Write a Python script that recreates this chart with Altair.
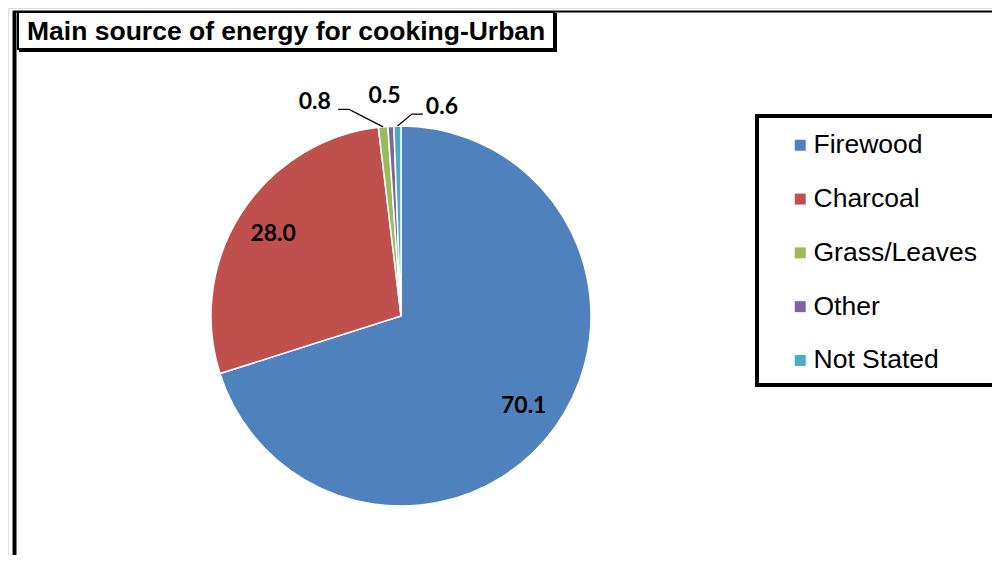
import math
import altair as alt
import pandas as pd

# ---- data ----
categories = ["Firewood", "Charcoal", "Grass/Leaves", "Other", "Not Stated"]
values = [70.1, 28.0, 0.8, 0.5, 0.6]
colors = ["#4F81BD", "#C0504D", "#9BBB59", "#8064A2", "#4BACC6"]
title_text = "Main source of energy for cooking-Urban"

total = sum(values)
df = pd.DataFrame({"category": categories, "value": values,
                   "order": list(range(len(categories)))})

# ---- layout (view coordinates = page - 8) ----
W, H = 984, 547
CX, CY, R = 393, 308, 190

theta_scale = alt.Scale(domain=[0, total])

pie = alt.Chart(df).mark_arc(outerRadius=R, stroke="white", strokeWidth=1.5).encode(
    theta=alt.Theta("value:Q", stack=True, scale=theta_scale),
    order=alt.Order("order:Q", sort="ascending"),
    color=alt.Color("category:N",
                    scale=alt.Scale(domain=categories, range=colors),
                    sort=categories,
                    legend=alt.Legend(title=None, orient="none", legendX=779, legendY=124,
                                      symbolType="square", symbolSize=121, symbolStrokeWidth=0,
                                      labelFont="Liberation Sans", labelFontSize=26.5,
                                      labelColor="black", rowPadding=26.8, labelOffset=0,
                                      labelLimit=400, padding=0)),
    x=alt.value(CX), y=alt.value(CY),
)

lab_base = alt.Chart(df).transform_window(
    cum="sum(value)", sort=[alt.SortField("order")], frame=[None, 0]
).transform_calculate(mid="datum.cum - datum.value/2", lab="format(datum.value, '.1f')")

def label_layer(filter_expr, radius, dx=0, dy=0):
    return lab_base.transform_filter(filter_expr).mark_text(
        radius=radius, dx=dx, dy=dy, font="Lato", fontWeight="bold", fontSize=23,
        color="black", align="center", baseline="middle"
    ).encode(
        theta=alt.Theta("mid:Q", stack=False, scale=theta_scale),
        text="lab:N", x=alt.value(CX), y=alt.value(CY),
    )

big_labels = label_layer("datum.value >= 5", 152)
lab_grass = label_layer("datum.category == 'Grass/Leaves'", 215, dx=-66, dy=0)
lab_other = label_layer("datum.category == 'Other'", 215, dx=-5, dy=-5)
lab_ns = label_layer("datum.category == 'Not Stated'", 215, dx=45, dy=6)

# leader lines from slice edge
def edge(cat):
    i = categories.index(cat)
    cum = sum(values[:i]) + values[i] / 2
    a = 2 * math.pi * cum / total
    return CX + R * math.sin(a), CY - R * math.cos(a)

gx, gy = edge("Grass/Leaves")
nx, ny = edge("Not Stated")
leader_df = pd.DataFrame({
    "id": ["g", "g", "g", "n", "n", "n"],
    "seq": [0, 1, 2, 0, 1, 2],
    "x": [gx, gx - 34, gx - 45, nx, nx + 14.5, nx + 25.5],
    "y": [gy, gy - 17.5, gy - 17.5, ny, ny - 12, ny - 12],
})
leaders = alt.Chart(leader_df).mark_line(color="black", strokeWidth=1.3).encode(
    x=alt.X("x:Q", scale=None, axis=None),
    y=alt.Y("y:Q", scale=None, axis=None),
    detail="id:N", order="seq:Q",
)

one = pd.DataFrame({"t": [title_text]})

# outer chart border (left and top)
border_left = alt.Chart(one).mark_rule(color="black", strokeWidth=4).encode(
    x=alt.value(6.5), y=alt.value(3), y2=alt.value(H))
border_top = alt.Chart(one).mark_rule(color="black", strokeWidth=2).encode(
    x=alt.value(5), x2=alt.value(W), y=alt.value(3.5))

# title box with shadow
title_shadow = alt.Chart(one).mark_rect(color="black").encode(
    x=alt.value(11), x2=alt.value(549), y=alt.value(5), y2=alt.value(44))
title_box = alt.Chart(one).mark_rect(fill="white", stroke="black", strokeWidth=2).encode(
    x=alt.value(10), x2=alt.value(546), y=alt.value(4), y2=alt.value(41))
title = alt.Chart(one).mark_text(font="Liberation Sans", fontWeight="bold", fontSize=26.5,
                                 align="left", baseline="alphabetic", color="black").encode(
    text="t:N", x=alt.value(19), y=alt.value(32))

# legend box
legend_box = alt.Chart(one).mark_rect(fill="white", stroke="black", strokeWidth=4).encode(
    x=alt.value(749), x2=alt.value(W + 20), y=alt.value(108), y2=alt.value(377))

chart = alt.layer(
    border_left, border_top, legend_box, title_shadow, title_box, title,
    pie, big_labels, lab_grass, lab_other, lab_ns, leaders,
).properties(
    width=W, height=H, padding=0,
    autosize=alt.AutoSizeParams(type="none"),
).configure_view(stroke=None).configure(background="white")

chart.save("out.html", embed_options={"renderer": "svg", "actions": False})
